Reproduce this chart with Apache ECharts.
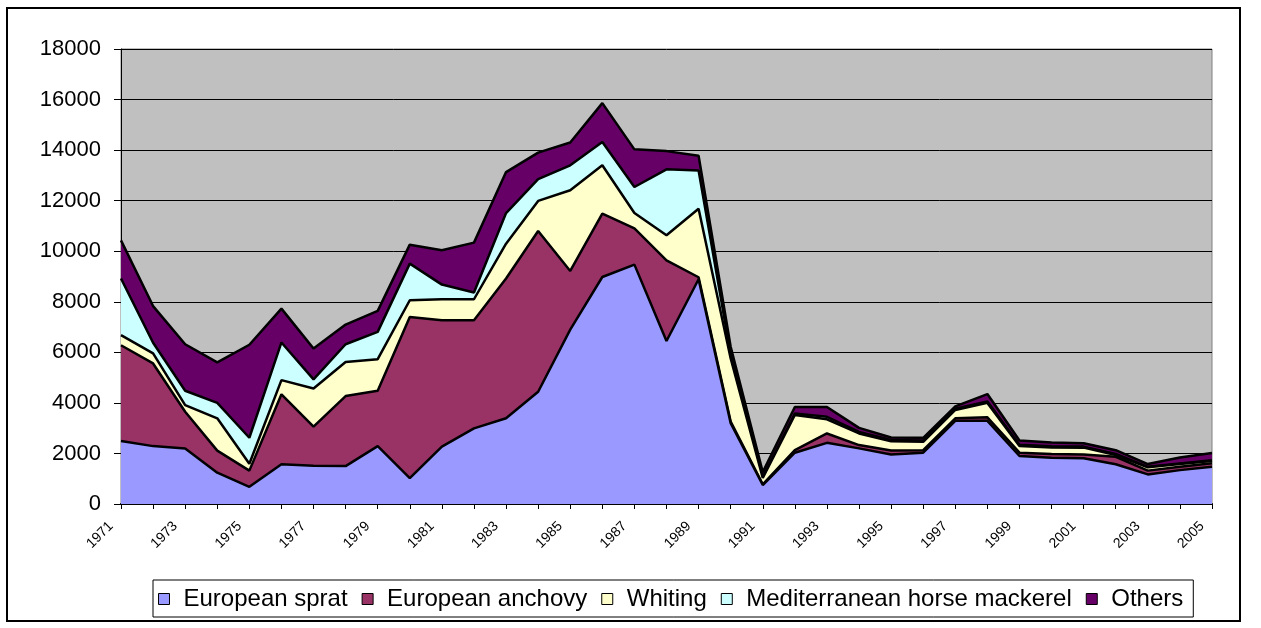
<!DOCTYPE html>
<html>
<head>
<meta charset="utf-8">
<script src="https://cdn.jsdelivr.net/npm/echarts@6/dist/echarts.min.js"></script>
<style>
  html, body { margin: 0; padding: 0; background: #fff; }
  #chart { width: 1261px; height: 628px; }
</style>
</head>
<body>
<div id="chart"></div>
<script>
const years = []
for (let y = 1971; y <= 2005; y++) years.push(String(y))

const seriesNames = ['European sprat', 'European anchovy', 'Whiting', 'Mediterranean horse mackerel', 'Others']
const seriesColors = ['#9999FF', '#993366', '#FFFFCC', '#CCFFFF', '#660066']

const sprat = [2490, 2290, 2200, 1240, 680, 1570, 1510, 1500, 2290, 1020, 2270, 2990, 3390, 4440, 6900, 8980, 9470, 6450, 8890, 3200, 750, 2030, 2420, 2200, 1960, 2030, 3290, 3290, 1900, 1830, 1810, 1570, 1170, 1340, 1470]
const anchovy = [3790, 3270, 1450, 870, 640, 2770, 1550, 2770, 2190, 6380, 5000, 4280, 5530, 6360, 2320, 2510, 1430, 3190, 80, 60, 30, 100, 370, 130, 160, 100, 100, 140, 130, 150, 150, 300, 150, 130, 140]
const whiting = [400, 400, 260, 1280, 270, 560, 1510, 1350, 1250, 660, 830, 830, 1380, 1190, 3190, 1910, 610, 990, 2710, 2500, 250, 1390, 560, 460, 360, 330, 330, 570, 260, 260, 270, 70, 130, 110, 90]
const mackerel = [2240, 420, 570, 610, 1030, 1490, 360, 700, 1080, 1450, 580, 270, 1210, 860, 990, 920, 1030, 2610, 1510, 150, 30, 60, 100, 60, 50, 50, 50, 60, 50, 40, 40, 40, 20, 20, 30]
const others = [1510, 1450, 1840, 1600, 3680, 1340, 1220, 780, 830, 750, 1360, 1970, 1620, 1050, 900, 1540, 1490, 720, 590, 310, 200, 260, 390, 160, 100, 110, 90, 290, 170, 150, 130, 150, 110, 240, 290]

const values = [sprat, anchovy, whiting, mackerel, others]

const chart = echarts.init(document.getElementById('chart'))

chart.setOption({
  animation: false,
  textStyle: { fontFamily: 'Arial, "Liberation Sans", sans-serif' },
  graphic: [{
    type: 'rect',
    shape: { x: 7, y: 8, width: 1233, height: 613 },
    style: { fill: 'none', stroke: '#000', lineWidth: 2 },
    z: 0
  }],
  grid: {
    left: 121,
    right: 49,
    top: 49,
    bottom: 124,
    show: true,
    backgroundColor: '#C0C0C0',
    borderColor: '#808080',
    borderWidth: 1
  },
  legend: {
    left: 153,
    top: 580,
    padding: [7, 10, 6, 5],
    itemGap: 14,
    itemWidth: 11,
    itemHeight: 11,
    icon: 'rect',
    backgroundColor: '#fff',
    borderColor: '#000',
    borderWidth: 1,
    itemStyle: { borderColor: '#000', borderWidth: 1 },
    textStyle: { fontSize: 24, color: '#000', padding: [0, 0, 0, 9] },
    data: seriesNames
  },
  xAxis: {
    type: 'category',
    data: years,
    boundaryGap: false,
    axisLine: { lineStyle: { color: '#000', width: 2 } },
    axisTick: { interval: 0, length: 5, lineStyle: { color: '#000' } },
    axisLabel: { interval: 1, rotate: 45, fontSize: 14, color: '#000', margin: 10, padding: [0, 14, 0, 0] },
    splitLine: { show: false }
  },
  yAxis: {
    type: 'value',
    min: 0,
    max: 18000,
    interval: 2000,
    axisLine: { show: true, lineStyle: { color: '#000' } },
    axisTick: { show: true, length: 7, lineStyle: { color: '#000' } },
    axisLabel: { fontSize: 22, color: '#000', margin: 20, formatter: v => String(v) },
    splitLine: { show: true, lineStyle: { color: '#000', width: 1 } }
  },
  series: seriesNames.map((name, i) => ({
    name,
    type: 'line',
    stack: 'total',
    data: values[i],
    symbol: 'none',
    z: 10 - i,
    color: seriesColors[i],
    lineStyle: { color: '#000', width: 2.5 },
    areaStyle: { color: seriesColors[i], opacity: 1 }
  }))
})
</script>
</body>
</html>
